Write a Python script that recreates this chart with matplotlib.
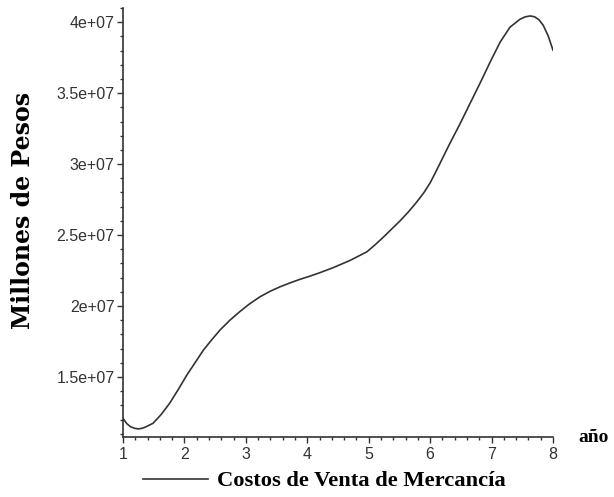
import matplotlib
matplotlib.use("Agg")
import matplotlib.pyplot as plt
from matplotlib.ticker import MultipleLocator, FuncFormatter

# costos de venta por año (pesos)
anio = [1.0, 1.06, 1.12, 1.19, 1.25, 1.31, 1.37, 1.49, 1.62, 1.76, 1.90,
        2.04, 2.18, 2.31, 2.45, 2.58, 2.74, 2.90, 3.06, 3.23, 3.40, 3.56,
        3.72, 3.88, 4.04, 4.20, 4.42, 4.70, 4.97, 5.10, 5.24, 5.38, 5.51,
        5.65, 5.78, 5.90, 6.00, 6.08, 6.16, 6.32, 6.49, 6.65, 6.81, 6.98,
        7.14, 7.30, 7.46, 7.55, 7.63, 7.70, 7.77, 7.84, 7.92, 8.0]
costos = [1.209e7, 1.172e7, 1.150e7, 1.138e7, 1.134e7, 1.138e7, 1.148e7,
          1.174e7, 1.235e7, 1.315e7, 1.412e7, 1.514e7, 1.605e7, 1.690e7,
          1.765e7, 1.831e7, 1.900e7, 1.960e7, 2.015e7, 2.065e7, 2.105e7,
          2.136e7, 2.163e7, 2.188e7, 2.210e7, 2.234e7, 2.270e7, 2.322e7,
          2.382e7, 2.430e7, 2.486e7, 2.545e7, 2.600e7, 2.665e7, 2.732e7,
          2.800e7, 2.868e7, 2.935e7, 3.005e7, 3.145e7, 3.287e7, 3.428e7,
          3.568e7, 3.722e7, 3.860e7, 3.965e7, 4.020e7, 4.038e7, 4.044e7,
          4.038e7, 4.018e7, 3.979e7, 3.905e7, 3.803e7]
xticks = [1, 2, 3, 4, 5, 6, 7, 8]
yticks = [1.5e7, 2e7, 2.5e7, 3e7, 3.5e7, 4e7]

fig = plt.figure(figsize=(6.14, 4.97), dpi=100)
ax = fig.add_axes([123 / 614, 1 - 437 / 497, 430 / 614, 429 / 497])

ax.plot(anio, costos, color="#333333", linewidth=1.2)

ax.set_xlim(1, 8)
ax.set_ylim(1.077e7, 4.1e7)
ax.set_xticks(xticks)
ax.set_yticks(yticks)
ax.xaxis.set_minor_locator(MultipleLocator(0.2))
ax.yaxis.set_minor_locator(MultipleLocator(1e6))
ax.yaxis.set_major_formatter(FuncFormatter(lambda v, p: f"{v:g}"))

for s in ["top", "right"]:
    ax.spines[s].set_visible(False)
for s in ["left", "bottom"]:
    ax.spines[s].set_linewidth(1.2)
    ax.spines[s].set_color("#333333")

ax.tick_params(which="major", length=4, width=1, color="#333333",
               labelsize=11.5, labelcolor="#333333", pad=2)
ax.tick_params(axis="x", which="major", pad=3)
ax.tick_params(which="minor", length=2.5, width=1, color="#333333")
for lab in ax.get_xticklabels() + ax.get_yticklabels():
    lab.set_family("Liberation Sans")

ax.set_ylabel("Millones de Pesos", family="DejaVu Serif", fontweight="bold",
              fontsize=17)
ax.yaxis.set_label_coords(-0.204, 0.527)

fig.text(578 / 614, 1 - 438 / 497, "año", family="Liberation Serif",
         fontweight="bold", fontsize=14, va="center", ha="left")

# leyenda debajo del eje
fig.add_artist(plt.Line2D([143 / 614, 208 / 614], [1 - 479 / 497, 1 - 479 / 497],
                          color="#333333", linewidth=1.2))
fig.text(217 / 614, 1 - 481 / 497, "Costos de Venta de Mercancía",
         family="Liberation Serif", fontweight="bold", fontsize=16.2,
         va="center", ha="left")

fig.savefig("out.png", dpi=100)
